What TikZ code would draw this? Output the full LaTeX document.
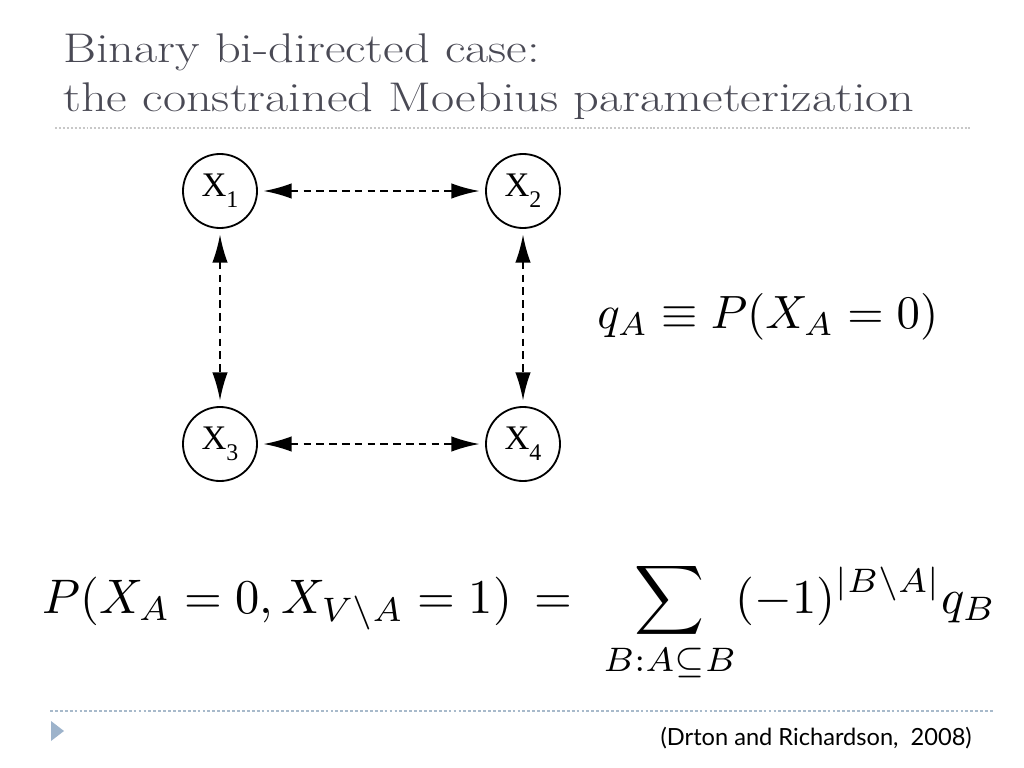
\RequirePackage{fix-cm}
\documentclass[tikz,border=0pt]{standalone}
\usepackage[no-math]{fontspec}
\usepackage{amsmath,amssymb}
\usetikzlibrary{arrows.meta}
\newfontfamily\nodefont{Liberation Serif}
\newfontfamily\citefont{Lato}
\definecolor{titlegray}{HTML}{4A4A55}
\definecolor{rulegray}{HTML}{C8C8C8}
\definecolor{ruleblue}{HTML}{A8BACB}
\definecolor{bulletblue}{HTML}{9DB3CB}

\newcommand{\xlab}[1]{X\raisebox{-0.32em}{\fontsize{17}{17}\selectfont #1}}
\newcommand{\titleline}[1]{\scalebox{1.215}[1]{#1}}
\newcommand{\wideeq}{\hspace{4.7pt}{=}\hspace{4.7pt}}

\begin{document}
\begin{tikzpicture}[x=0.025cm, y=-0.025cm,
    var/.style={circle, draw, line width=1.3pt, minimum size=1.85cm, inner sep=0pt,
                font=\nodefont\fontsize{24.5}{24.5}\selectfont},
    bidir/.style={line width=1.3pt, dash pattern=on 5.5pt off 3.6pt,
                  {Latex[length=20pt,width=11pt]}-{Latex[length=20pt,width=11pt]},
                  shorten <=4pt, shorten >=4pt},
    ttl/.style={anchor=base west, inner sep=0pt, text=titlegray,
                font=\fontsize{29.5}{35}\selectfont}
]
\useasboundingbox (0,0) rectangle (1024,768);

% title
\node[ttl] (title1) at (63,63) {\titleline{Binary bi-directed case:}};
\node[ttl] (title2) at (63,112) {\titleline{the constrained Moebius parameterization}};
\draw[rulegray, line width=1pt, dash pattern=on 1.4pt off 1.4pt] (55,128) -- (972,128);

% graph
\node[var] (x1) at (220,191) {\xlab{1}};
\node[var] (x2) at (523,191) {\xlab{2}};
\node[var] (x3) at (220,444) {\xlab{3}};
\node[var] (x4) at (523,444) {\xlab{4}};

\draw[bidir] (x1) -- (x2);
\draw[bidir] (x1) -- (x3);
\draw[bidir] (x2) -- (x4);
\draw[bidir] (x3) -- (x4);

% formulas (set at 10pt, then blown up)
\node[anchor=base west, inner sep=0pt] (qdef) at (597,328)
      {\scalebox{3.32}{$q_A \equiv P(X_A = 0)$}};
\node[anchor=base west, inner sep=0pt] (moeb) at (42,613)
      {\scalebox{3.45}{$\displaystyle P(X_A = 0, X_{V\setminus A} = 1) \wideeq \sum_{B{:}A\subseteq B} (-1)^{|B\setminus A|} q_B$}};

% footer
\draw[ruleblue, line width=0.8pt, dash pattern=on 2pt off 1.5pt] (50,711) -- (993,711);
\fill[bulletblue] (51,721) -- (64,731) -- (51,741) -- cycle;
\node[anchor=base east, inner sep=0pt, font=\citefont\fontsize{16.8}{20}\selectfont] (cite) at (972,745)
      {(Drton and Richardson,\ \ 2008)};
\end{tikzpicture}
\end{document}
